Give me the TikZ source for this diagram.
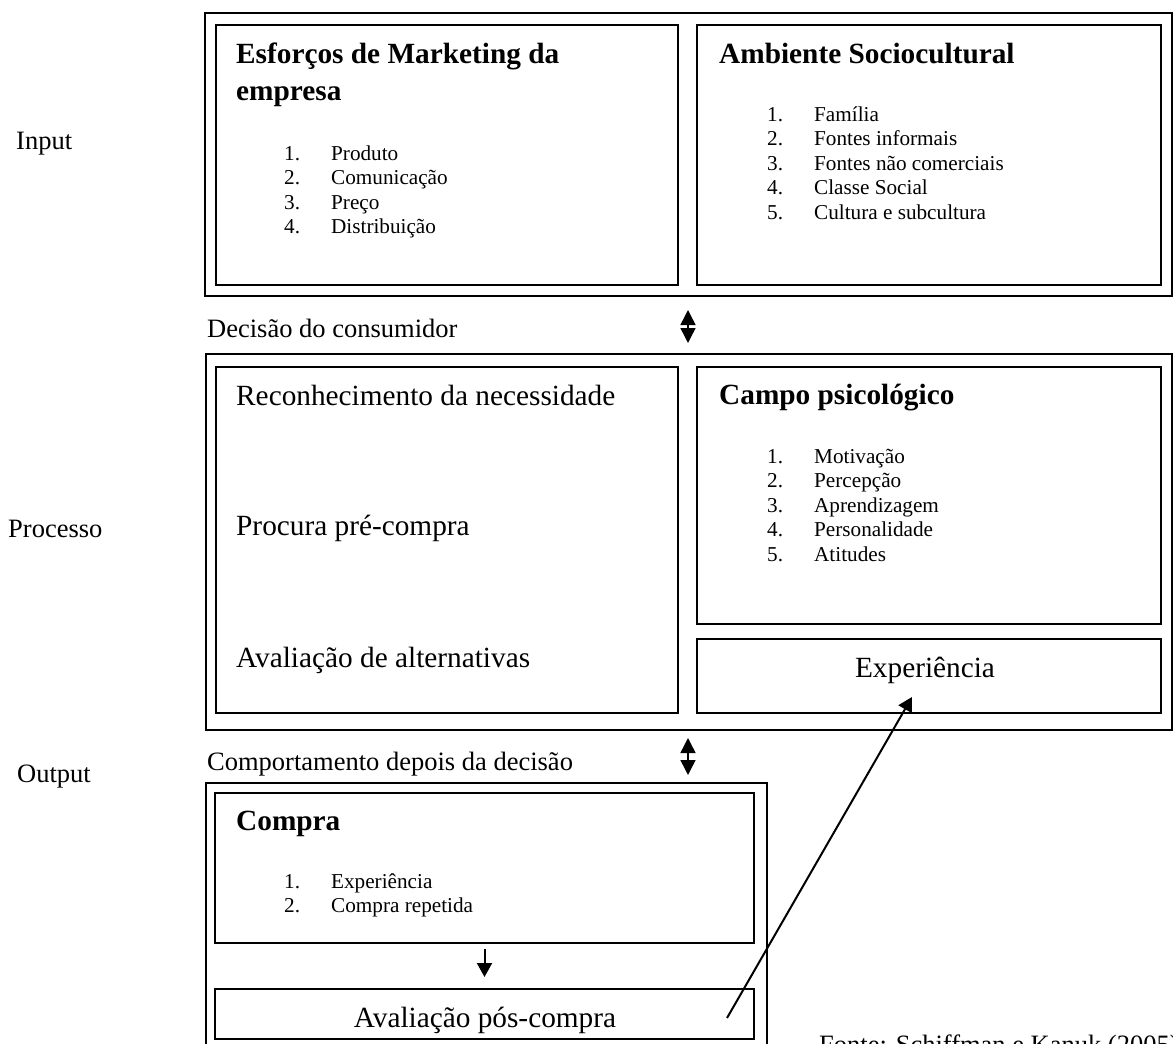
\documentclass[tikz,border=0pt]{standalone}
\usepackage{fontspec}
\setmainfont{Liberation Serif}
\usepackage{tikz}
\usetikzlibrary{arrows.meta}
\pgfdeclarelayer{edgelayer}
\pgfdeclarelayer{nodelayer}
\pgfsetlayers{edgelayer,nodelayer,main}
\tikzstyle{none}=[inner sep=0pt]
\tikzstyle{box}=[draw, line width=2pt, inner sep=0pt]
\tikzstyle{heading}=[inner sep=0pt, anchor=base west, align=left, font=\fontsize{29.3}{37}\selectfont\bfseries]
\tikzstyle{phase}=[inner sep=0pt, anchor=base west, font=\fontsize{26.5}{30}\selectfont]
\tikzstyle{stage}=[inner sep=0pt, anchor=base west, font=\fontsize{29.3}{34}\selectfont]
\tikzstyle{items}=[inner sep=0pt, anchor=base west, align=left, font=\fontsize{21.2}{24.5}\selectfont]
\tikzstyle{twoway}=[line width=1.5pt, {Triangle[length=15pt,width=15pt]}-{Triangle[length=15pt,width=15pt]}]
\tikzstyle{oneway}=[line width=2pt, -{Triangle[length=14pt,width=15pt]}]
\newcommand{\nr}[1]{\makebox[47pt][l]{#1}}

\begin{document}
\begin{tikzpicture}[x=1pt, y=-1pt]
    \useasboundingbox (0,0) rectangle (1173,1044);
    % multi-line nodes sit on the baseline of their last line
    \begin{pgfonlayer}{nodelayer}
	% input
	\node [style=box, minimum width=967pt, minimum height=283pt] (0) at (688.5,154.5) {};
	\node [style=box, minimum width=462pt, minimum height=260pt] (1) at (447,155) {};
	\node [style=box, minimum width=464pt, minimum height=260pt] (2) at (929,155) {};
	\node [style=phase] (3) at (16,149) {Input};
	\node [style=heading] (4) at (236,100) {Esforços de Marketing da\\empresa};
	\node [style=items] (5) at (284,233.5) {\nr{1.}Produto\\\nr{2.}Comunicação\\\nr{3.}Preço\\\nr{4.}Distribuição};
	\node [style=heading] (6) at (719,63) {Ambiente Sociocultural};
	\node [style=items] (7) at (767,219) {\nr{1.}Família\\\nr{2.}Fontes informais\\\nr{3.}Fontes não comerciais\\\nr{4.}Classe Social\\\nr{5.}Cultura e subcultura};
	% processo
	\node [style=phase] (8) at (207,337) {Decisão do consumidor};
	\node [style=box, minimum width=966pt, minimum height=376pt] (9) at (689,542) {};
	\node [style=box, minimum width=462pt, minimum height=346pt] (10) at (447,540) {};
	\node [style=box, minimum width=464pt, minimum height=257pt] (11) at (929,495.5) {};
	\node [style=box, minimum width=464pt, minimum height=74pt] (12) at (929,676) {};
	\node [style=phase] (13) at (8,537) {Processo};
	\node [style=stage] (14) at (236,405) {Reconhecimento da necessidade};
	\node [style=stage] (15) at (236,535) {Procura pré-compra};
	\node [style=stage] (16) at (236,667) {Avaliação de alternativas};
	\node [style=heading] (17) at (719,404) {Campo psicológico};
	\node [style=items] (18) at (767,561) {\nr{1.}Motivação\\\nr{2.}Percepção\\\nr{3.}Aprendizagem\\\nr{4.}Personalidade\\\nr{5.}Atitudes};
	\node [style=stage, anchor=base] (19) at (925,677) {Experiência};
	% output
	\node [style=phase] (20) at (207,770) {Comportamento depois da decisão};
	\node [style=box, minimum width=561pt, minimum height=277pt] (21) at (486.5,921.5) {};
	\node [style=box, minimum width=539pt, minimum height=150pt] (22) at (484.5,868) {};
	\node [style=box, minimum width=539pt, minimum height=50pt] (23) at (484.5,1014) {};
	\node [style=phase] (24) at (17,782) {Output};
	\node [style=heading] (25) at (236,830) {Compra};
	\node [style=items] (26) at (284,912.5) {\nr{1.}Experiência\\\nr{2.}Compra repetida};
	\node [style=stage, anchor=base] (27) at (485,1027) {Avaliação pós-compra};
	\node [style=phase] (28) at (819,1053) {Fonte: Schiffman e Kanuk (2005)};
	\coordinate (30) at (688,310);
	\coordinate (31) at (688,343);
	\coordinate (32) at (688,738);
	\coordinate (33) at (688,775);
	\coordinate (34) at (727,1018);
	\coordinate (35) at (912,697);
    \end{pgfonlayer}
    \begin{pgfonlayer}{edgelayer}
	\draw [style=twoway] (30) to (31);
	\draw [style=twoway] (32) to (33);
	\draw [style=oneway, shorten <=5pt, shorten >=11pt] (22.south) to (23.north);
	\draw [style=oneway] (34) to (35);
    \end{pgfonlayer}
\end{tikzpicture}
\end{document}
